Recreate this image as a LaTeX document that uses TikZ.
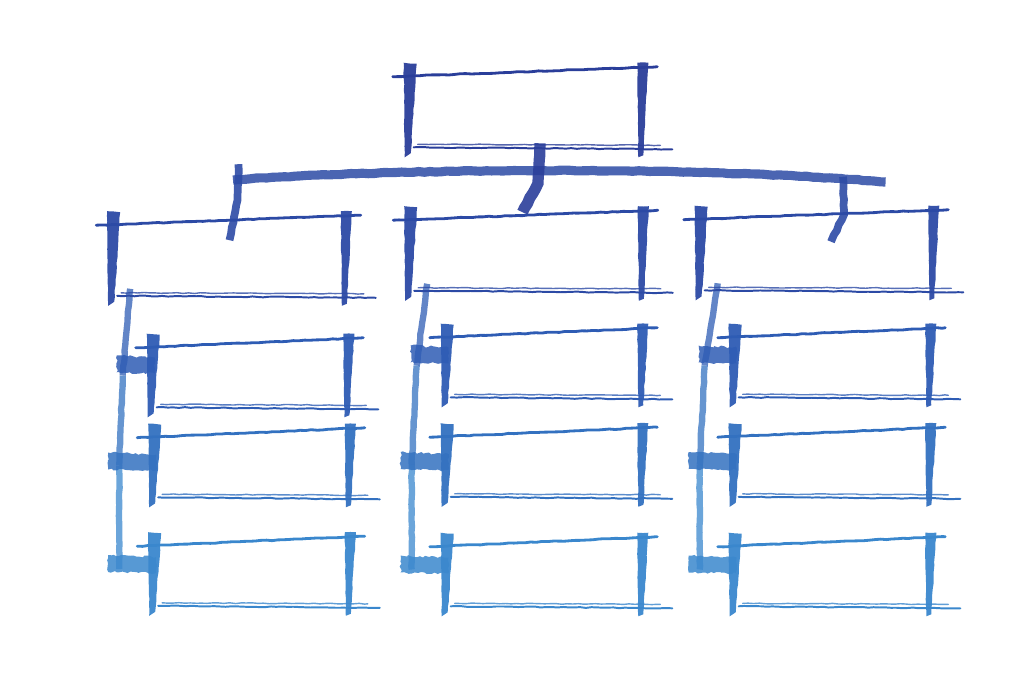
\documentclass[tikz,border=0pt]{standalone}
\usetikzlibrary{calc, decorations.pathmorphing}
\definecolor{inktop}{HTML}{2A3E9A}
\definecolor{inkmid}{HTML}{2C4AA5}
\definecolor{inkrowA}{HTML}{2E5CB4}
\definecolor{inkrowB}{HTML}{3371C0}
\definecolor{inkrowC}{HTML}{3A87CD}
\tikzset{
  box/.style={
    rectangle,
    minimum width=5.8cm,
    minimum height=1.9cm,
    inner sep=0pt
  },
  subbox/.style={
    rectangle,
    minimum width=4.875cm,
    minimum height=1.625cm,
    inner sep=0pt
  },
  crayon/.style={decorate, decoration={random steps, segment length=4pt, amplitude=0.3pt}},
  rule/.style={crayon, line width=2pt, line cap=round},
  post/.style={crayon, opacity=0.95},
  trunk/.style={crayon, line width=6pt, opacity=0.9},
  spine/.style={crayon, line width=4.5pt, opacity=0.75},
  tick/.style={decorate, decoration={random steps, segment length=2pt, amplitude=0.8pt},
    opacity=0.85}
}
% one hand-drawn box round a named node
\newcommand\crayonbox[2]{%
  \draw[rule, #2] ($(#1.north west)+(-17,5)$) -- ($(#1.north east)+(15,-5)$);
  \draw[rule, #2, line width=1.4pt] ($(#1.south west)+(4,-1)$) -- ($(#1.south east)+(30,1)$);
  \draw[rule, #2, line width=1pt, opacity=0.8] ($(#1.south west)+(8,-4)$) -- ($(#1.south east)+(18,-3)$);
  \fill[post, #2] ($(#1.north west)+(-6,-9)$) -- ($(#1.north west)+(7,-8)$)
    -- ($(#1.south west)+(1,5)$) -- ($(#1.south west)+(-5,9)$) -- cycle;
  \fill[post, #2] ($(#1.north east)+(-5,-9)$) -- ($(#1.north east)+(6,-9)$)
    -- ($(#1.south east)+(1,7)$) -- ($(#1.south east)+(-4,9)$) -- cycle;
}
% scribbled link from a spine into a box
\newcommand\crayontick[4]{%
  \fill[tick, #4] ($(#1.west)+(-#3,#2-10)$) -- ($(#1.west)+(2,#2-8)$)
    -- ($(#1.west)+(2,#2+8)$) -- ($(#1.west)+(-#3,#2+7)$) -- cycle;
}
\begin{document}
\begin{tikzpicture}[x=0.025cm, y=-0.025cm]
  \pgfmathsetseed{7}
  \useasboundingbox (0,0) rectangle (1024,683);
  % boxes
  \node (top) [box] at (526,110) {};
  \node (l2a) [box] at (229.5,258.5) {};
  \node (l2b) [box] at (526.5,253.5) {};
  \node (l2c) [box] at (817,253) {};
  \node (a1) [subbox] at (250.5,375.5) {};
  \node (a2) [subbox] at (252,465.5) {};
  \node (a3) [subbox] at (252,574) {};
  \node (b1) [subbox] at (544.5,365.5) {};
  \node (b2) [subbox] at (544.5,465) {};
  \node (b3) [subbox] at (544.5,574.5) {};
  \node (c1) [subbox] at (832.5,365.5) {};
  \node (c2) [subbox] at (832.5,465) {};
  \node (c3) [subbox] at (832.5,574.5) {};
  \coordinate (barW) at (233,180);
  \coordinate (barE) at (885,182);
  % connectors
  \draw[trunk, inkmid, line width=6.5pt, opacity=0.85] (barW) .. controls (400,168) and (700,166) .. (barE);
  \draw[trunk, inktop, line width=8pt] ($(top.south)+(14,-5)$) -- ($(top.south)+(12,35)$) -- ($(l2b.north)+(-4,-3)$);
  \draw[trunk, inkmid, line width=5.5pt] ($(l2a.north)+(9,-56)$) -- ($(l2a.north)+(8,-20)$) -- ($(l2a.north)+(0,20)$);
  \draw[trunk, inkmid, line width=5.5pt] ($(l2c.north)+(26,-38)$) -- ($(l2c.north)+(27,0)$) -- ($(l2c.north)+(14,27)$);
  \foreach \col in {a,b,c}{
    \draw[spine, inkrowA] ($(l2\col.south west)+(17,-8)$) -- ($(\col1.west)+(-30,0)$);
    \draw[spine, inkrowB] ($(\col1.west)+(-30,0)$) -- ($(\col2.west)+(-35,0)$);
    \draw[spine, inkrowC] ($(\col2.west)+(-35,0)$) -- ($(\col3.west)+(-35,-5)$);
    \crayontick{\col1}{-10}{36}{inkrowA}
    \crayontick{\col2}{-3}{46}{inkrowB}
    \crayontick{\col3}{-9}{46}{inkrowC}
  }
  % the boxes themselves
  \crayonbox{top}{inktop}
  \crayonbox{l2a}{inkmid}
  \crayonbox{l2b}{inkmid}
  \crayonbox{l2c}{inkmid}
  \foreach \col in {a,b,c}{
    \crayonbox{\col1}{inkrowA}
    \crayonbox{\col2}{inkrowB}
    \crayonbox{\col3}{inkrowC}
  }
\end{tikzpicture}
\end{document}
